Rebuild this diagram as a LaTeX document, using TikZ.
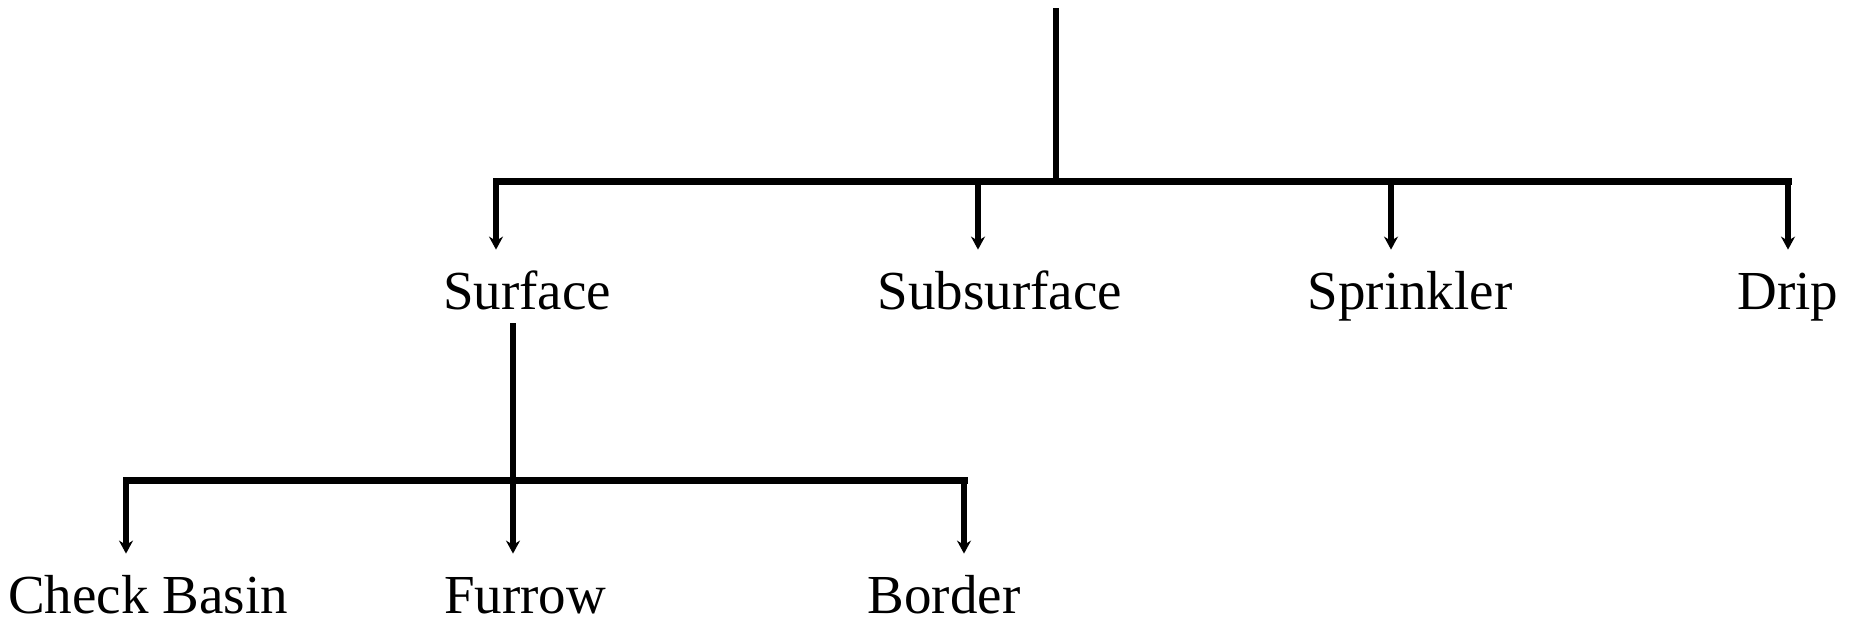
\documentclass[tikz,border=0pt]{standalone}
\usepackage{fontspec}
\setmainfont{Liberation Serif}
\usetikzlibrary{arrows.meta}

\begin{document}
\begin{tikzpicture}[x=0.5pt,y=0.5pt,yscale=-1,xscale=1,
  lbl/.style={font=\fontsize{27.5}{30}\selectfont,inner sep=0pt,text height=19pt,text depth=7pt,anchor=base},
  lowlbl/.style={lbl,text depth=0pt},
  bar/.style={line width=3.5pt,line cap=rect},
  stem/.style={line width=2.6pt},
  drop/.style={line width=2.8pt,-{Stealth[length=6.5pt,width=7pt]},shorten >=10.5pt}]
\useasboundingbox (0,0) rectangle (1855,622);

% Text Node
\node[lbl] (surf) at (527,309) {Surface};
% Text Node
\node[lbl] (subsurf) at (1000,309) {Subsurface};
% Text Node
\node[lbl] (sprink) at (1410,309) {Sprinkler};
% Text Node
\node[lbl] (drip) at (1788,309) {Drip};
% Text Node
\node[lowlbl] (basin) at (148,613) {Check Basin};
% Text Node
\node[lowlbl] (furrow) at (525,613) {Furrow};
% Text Node
\node[lowlbl] (border) at (944,613) {Border};

% upper branch
\coordinate (root) at (1056,8);
\coordinate (hub) at (1056,181);
\coordinate (u1) at (496,181);
\coordinate (u2) at (978,181);
\coordinate (u3) at (1391,181);
\coordinate (u4) at (1788,181);
\draw[stem] (root) -- (hub);
\draw[bar] (u1) -- (u4);
\draw[drop] (u1) -- (u1 |- surf.north);
\draw[drop] (u2) -- (u2 |- subsurf.north);
\draw[drop] (u3) -- (u3 |- sprink.north);
\draw[drop] (u4) -- (u4 |- drip.north);

% lower branch
\coordinate (s0) at (513,480);
\coordinate (l1) at (126,480);
\coordinate (l3) at (964,480);
\draw[stem] (surf.south -| s0) -- (s0);
\draw[bar] (l1) -- (l3);
\draw[drop] (l1) -- (l1 |- basin.north);
\draw[drop] (s0) -- (s0 |- furrow.north);
\draw[drop] (l3) -- (l3 |- border.north);

\end{tikzpicture}
\end{document}
